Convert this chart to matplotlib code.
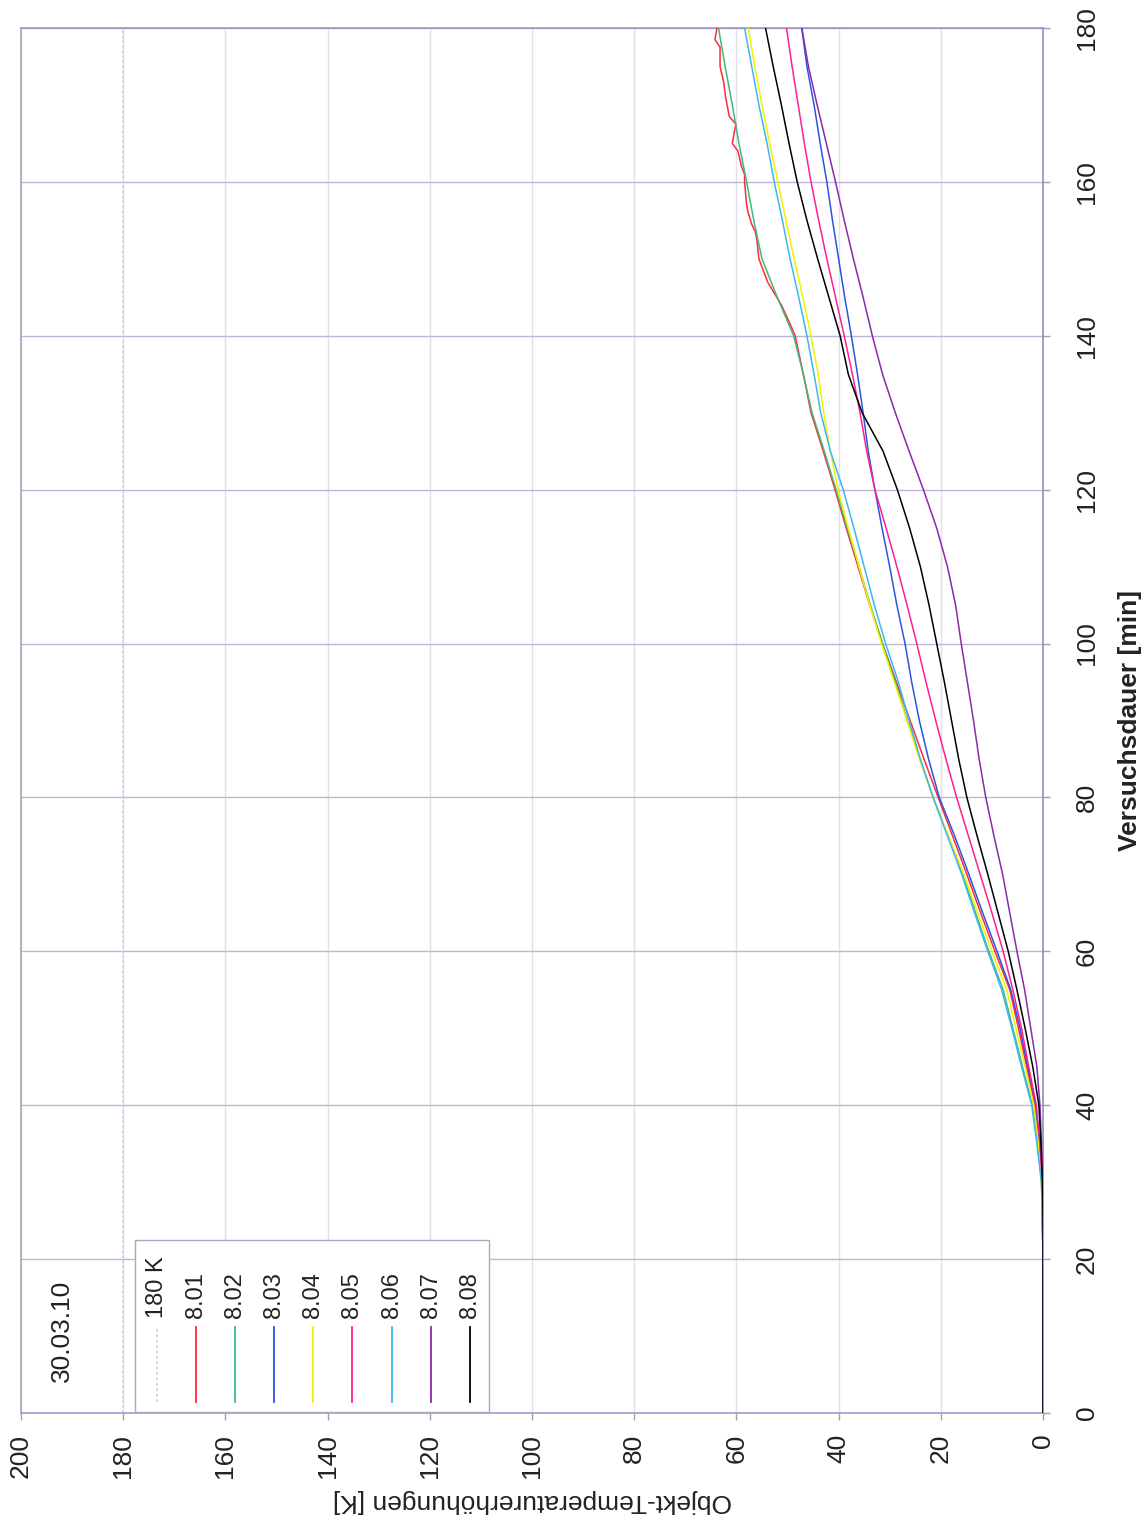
import matplotlib
matplotlib.use("Agg")
import matplotlib.pyplot as plt
from matplotlib.patches import Rectangle
from matplotlib.lines import Line2D

plt.rcParams['font.family'] = ['Liberation Sans', 'DejaVu Sans']

# Versuchsdauer [min]
t = [0, 20, 25, 30, 35, 40, 45, 50, 55, 60, 65, 70, 75, 80, 85, 90, 95, 100,
     105, 110, 115, 120, 125, 130, 135, 140, 145, 150, 155, 160, 165, 170, 175, 180]

# Objekt-Temperaturerhoehungen [K]
t_801 = [0, 20, 25, 30, 35, 40, 45, 50, 55, 60, 65, 70, 75, 80, 85, 90, 95, 100,
         105, 110, 115, 120, 125, 130, 135, 140, 142, 144, 147, 150, 152.5, 153.5,
         154.5, 156, 157, 160, 161, 162, 164, 165, 166.5, 167.5, 168.5, 171, 173,
         175, 177.5, 178.5, 180]
v_801 = [0, 0, 0.1, 0.2, 0.7, 1.6, 3.2, 4.8, 6.5, 9.4, 12.2, 14.9, 17.7, 20.5, 23.3,
         26.0, 28.7, 31.4, 33.9, 36.2, 38.5, 40.7, 43.0, 45.4, 46.9, 48.5, 49.8,
         51.2, 53.9, 55.6, 56.0, 56.3, 57.0, 57.7, 58.0, 58.4, 58.4, 59.0, 59.7,
         60.8, 60.4, 60.1, 61.4, 62.1, 62.5, 63.2, 63.2, 64.2, 63.8]
v_802 = [0, 0, 0.1, 0.3, 1.0, 2.1, 4.0, 5.9, 7.8, 10.6, 13.2, 15.7, 18.6, 21.5, 24.1,
         26.5, 28.9, 31.4, 33.8, 36.0, 38.3, 40.5, 42.8, 45.2, 46.9, 48.8, 52.0,
         55.0, 56.6, 58.0, 59.5, 60.8, 62.2, 63.5]
v_803 = [0, 0, 0.1, 0.2, 0.7, 1.4, 3.0, 4.5, 6.3, 9.0, 11.8, 14.5, 17.3, 20.3, 22.4,
         24.2, 25.7, 27.0, 28.6, 30.0, 31.5, 32.9, 34.2, 35.2, 36.3, 37.5, 38.8,
         40.0, 41.2, 42.3, 43.6, 44.8, 46.2, 47.2]
v_804 = [0, 0, 0.1, 0.3, 0.9, 1.8, 3.5, 5.3, 7.1, 10.0, 12.8, 15.5, 18.5, 21.5, 24.2,
         26.6, 29.1, 31.6, 33.9, 36.0, 38.1, 40.1, 41.6, 42.9, 44.0, 45.4, 47.0,
         48.7, 50.3, 51.9, 53.5, 55.0, 56.4, 57.7]
v_805 = [0, 0, 0.1, 0.2, 0.6, 1.3, 2.8, 4.2, 5.9, 7.8, 10.0, 12.3, 14.6, 16.9, 19.0,
         21.0, 22.9, 24.7, 26.6, 28.6, 30.7, 32.9, 34.5, 35.8, 37.3, 38.9, 40.6,
         42.3, 43.9, 45.4, 46.7, 47.9, 49.1, 50.2]
v_806 = [0, 0, 0.1, 0.3, 1.2, 2.2, 4.2, 6.1, 8.1, 10.8, 13.4, 15.9, 18.7, 21.5, 24.0,
         26.2, 28.3, 30.8, 33.0, 35.0, 37.0, 39.1, 41.6, 43.5, 44.8, 46.2, 47.8,
         49.5, 51.0, 52.6, 54.0, 55.6, 57.0, 58.4]
v_807 = [0, 0, 0, 0.1, 0.3, 0.6, 1.2, 2.4, 3.6, 5.1, 6.5, 7.9, 9.6, 11.2, 12.5,
         13.6, 14.8, 16.0, 17.1, 18.7, 20.8, 23.4, 26.2, 28.9, 31.4, 33.4, 35.2,
         37.1, 38.9, 40.6, 42.4, 44.2, 45.9, 47.2]
v_808 = [0, 0, 0, 0.1, 0.4, 0.8, 2.0, 3.5, 5.1, 6.8, 8.8, 10.8, 12.9, 14.9, 16.5,
         17.9, 19.3, 20.8, 22.3, 24.0, 26.1, 28.5, 31.3, 35.4, 38.1, 39.7, 41.9,
         44.1, 46.2, 48.1, 49.7, 51.2, 52.8, 54.3]
ref_t = [0, 180]
ref_v = [180, 180]

labels = ['8.01', '8.02', '8.03', '8.04', '8.05', '8.06', '8.07', '8.08']
colors = ['#ff2a3a', '#3fba7c', '#2a55e0', '#f5f000', '#ff1f8f', '#3ab8f0', '#8a2aa8', '#000000']
times = [t_801, t, t, t, t, t, t, t]
values = [v_801, v_802, v_803, v_804, v_805, v_806, v_807, v_808]

fig = plt.figure(figsize=(11.47, 15.24), dpi=100)
W, H = 1147, 1524
L, R, TOP, BOT = 21, 1043, 28, 1413
ax = fig.add_axes([L / W, (H - BOT) / H, (R - L) / W, (BOT - TOP) / H])

# rotated chart: temperature runs right->left, time runs bottom->top
ax.set_xlim(200, 0)
ax.set_ylim(0, 180)
ax.set_xticks(range(0, 201, 20))
ax.set_yticks(range(0, 181, 20))

ax.grid(True, axis='x', color='#e0e0e8', lw=1.0)
ax.grid(True, axis='y', color='#bdb6d8', lw=1.0)
ax.set_axisbelow(True)

ax.plot(ref_v, ref_t, color='#c4d6f2', lw=1.2, ls=(0, (1.5, 1.5)), zorder=2)
for tt, vv, c in zip(times, values, colors):
    ax.plot(vv, tt, color=c, lw=1.1, zorder=3)

ax.spines['left'].set_color('#a8a8b0')
ax.spines['top'].set_color('#9c94cc')
ax.spines['bottom'].set_color('#a49ad0')
ax.spines['right'].set_color('#8e8eb8')
for s in ax.spines.values():
    s.set_linewidth(1.2)

ax.yaxis.tick_right()
ax.yaxis.set_label_position('right')
ax.tick_params(axis='x', length=5, width=1, color='#a0a0b0', pad=10, labelsize=19,
               labelrotation=90, labelcolor='#222222')
ax.tick_params(axis='y', length=5, width=1, color='#a0a0b0', pad=18, labelsize=19,
               labelrotation=90, labelcolor='#222222')
for lab in ax.get_yticklabels():
    lab.set_verticalalignment('center')

ax.set_xlabel('Objekt-Temperaturerhöhungen [K]', fontsize=19, rotation=180,
              labelpad=8, color='#222222')
ax.set_ylabel('Versuchsdauer [min]', fontsize=19, fontweight='bold',
              labelpad=14, color='#222222')

# legend, drawn by hand because the whole chart is turned by 90 degrees
def fx(px):
    return (px - L) / (R - L)

def fy(py):
    return (BOT - py) / (BOT - TOP)

ax.add_patch(Rectangle((fx(135), fy(1412)), fx(489) - fx(135), fy(1240) - fy(1412),
                       transform=ax.transAxes, facecolor='white', edgecolor='#a8a8c0',
                       lw=1.0, zorder=5))
entry_x = [157, 196, 235, 274, 313, 352, 392, 431, 470]
entry_lab = ['180 K'] + labels
entry_col = ['#c4d6f2'] + colors
for i, (ex, el, ec) in enumerate(zip(entry_x, entry_lab, entry_col)):
    ls = (0, (1.5, 1.5)) if i == 0 else '-'
    ax.add_line(Line2D([fx(ex), fx(ex)], [fy(1402), fy(1327)], transform=ax.transAxes,
                       color=ec, lw=1.3, ls=ls, zorder=6))
    ax.text(fx(ex), fy(1318), el, transform=ax.transAxes, rotation=90, ha='center',
            va='bottom', fontsize=17, color='#222222', zorder=7)

ax.text(fx(62), fy(1331), '30.03.10', transform=ax.transAxes, rotation=90,
        ha='center', va='center', fontsize=19, color='#222222')

fig.savefig('out.png', dpi=100, facecolor='white')
